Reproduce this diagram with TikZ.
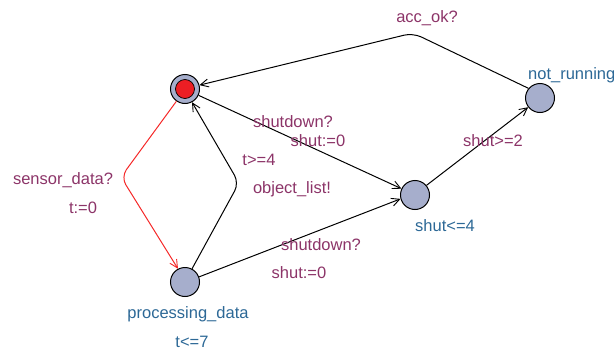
\documentclass[tikz,border=0pt]{standalone}
\usepackage{fontspec}
\setmainfont{Liberation Sans}
\usetikzlibrary{arrows.meta}
\definecolor{lbl}{RGB}{140,52,104}
\definecolor{locname}{RGB}{44,104,150}
\definecolor{locfill}{RGB}{166,174,204}
\definecolor{initred}{RGB}{236,30,36}
\definecolor{edgered}{RGB}{245,40,40}
\tikzset{
  loc/.style={circle,draw=black,line width=1pt,fill=locfill,minimum size=29pt,inner sep=0pt},
  lab/.style={text=lbl,font=\fontsize{16.5}{18}\selectfont,inner sep=0pt},
  locnm/.style={text=locname,font=\fontsize{16.5}{18}\selectfont,inner sep=0pt},
  conn/.style={line width=1pt,-{Straight Barb[length=8pt,width=8pt,line width=0.9pt]},rounded corners=9pt},
}
\begin{document}
\begin{tikzpicture}[x=1pt,y=-1pt]
\useasboundingbox (0,0) rectangle (614,351);
% locations
\node[loc] (init) at (185,89) {};
\node[circle,fill=initred,draw=black,line width=0.7pt,minimum size=19pt,inner sep=0pt] (initin) at (185,89) {};
\node[loc] (proc) at (185,282) {};
\node[loc] (shut) at (415,195) {};
\node[loc] (nr) at (540,98) {};
% names
\node[locnm,anchor=west] (nrname) at (528,75) {not\_running};
\node[locnm] (shutname) at (445,226) {shut<=4};
\node[locnm] (procname) at (188,314) {processing\_data};
\node[locnm] (procinv) at (192,342) {t<=7};
% bend points
\coordinate (c1) at (413,33);
\coordinate (c2) at (121,177);
\coordinate (c3) at (239,183);
% edges
\draw[conn] (nr.140) -- (c1) -- (init.15);
\draw[conn,draw=edgered,-{Straight Barb[length=8pt,width=8pt,line width=0.9pt,color=edgered]}] (init.235) -- (c2) -- (proc.118);
\draw[conn] (proc.62) -- (c3) -- (init.298);
\draw[conn] (init.-25) -- (shut.155);
\draw[conn] (proc.20) -- (shut.195);
\draw[conn] (shut.40) -- (nr.218);
% labels
\node[lab] (l1) at (427,18) {acc\_ok?};
\node[lab] (l2) at (63,180) {sensor\_data?};
\node[lab] (l3) at (83,208) {t:=0};
\node[lab] (l4) at (259,160) {t>=4};
\node[lab] (l5) at (292,189) {object\_list!};
\node[lab] (l6) at (293,122) {shutdown?};
\node[lab] (l7) at (318,141) {shut:=0};
\node[lab] (l8) at (321,245) {shutdown?};
\node[lab] (l9) at (299,273) {shut:=0};
\node[lab] (l10) at (493,141) {shut>=2};
\end{tikzpicture}
\end{document}
